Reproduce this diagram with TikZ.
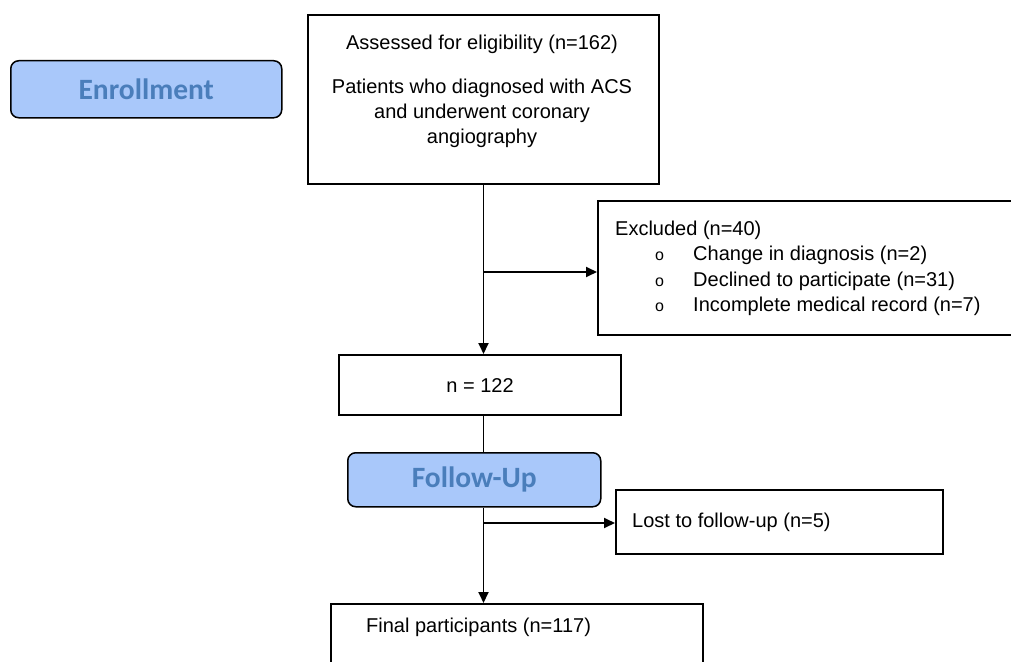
\documentclass[tikz,border=0pt]{standalone}
\usepackage{fontspec}
\setmainfont{Liberation Sans}
\newfontfamily\phasefont{Carlito}
\usetikzlibrary{arrows.meta}
\definecolor{phasefill}{HTML}{A9C8FA}
\definecolor{phasetext}{HTML}{4A7EBB}
\begin{document}
\begin{tikzpicture}[x=1pt,y=-1pt,
  box/.style={draw, line width=1.7pt, fill=white, inner sep=0pt, anchor=north west},
  phase/.style={draw, line width=1.5pt, fill=phasefill, rounded corners=8pt, inner sep=0pt,
    anchor=north west, font=\phasefont\bfseries\fontsize{29.5}{31}\selectfont, text=phasetext},
  txt/.style={font=\fontsize{20}{25}\selectfont, inner sep=0pt},
  conn/.style={line width=1.8pt},
  arr/.style={conn, -{Triangle[length=11pt,width=10pt]}}]
\clip (0,0) rectangle (1011,661);
% boxes
\node[phase, minimum width=271pt, minimum height=57pt] (enroll) at (10,60) {Enrollment};
\node[box, minimum width=351pt, minimum height=169pt] (assess) at (307,14) {};
\node[box, minimum width=450pt, minimum height=134pt] (excl) at (597,200) {};
\node[box, minimum width=282pt, minimum height=60pt] (n122) at (338,354) {};
\node[phase, minimum width=253pt, minimum height=54pt] (follow) at (347,452) {Follow-Up};
\node[box, minimum width=327pt, minimum height=64pt] (lost) at (615,489) {};
\node[box, minimum width=372pt, minimum height=90pt] (final) at (330,603) {};
% texts
\node[txt, anchor=base] (t1) at (482,49) {Assessed for eligibility (n=162)};
\node[txt, anchor=north, align=center] (t2) at (482,78.5) {Patients who diagnosed with ACS\\and underwent coronary\\angiography};
\node[txt, anchor=north west, align=left, font=\fontsize{20}{25.5}\selectfont] (t3) at (615,220.5) {%
Excluded (n=40)\\
\hspace*{40pt}\makebox[38pt][l]{\fontsize{16}{16}\selectfont o}Change in diagnosis (n=2)\\
\hspace*{40pt}\makebox[38pt][l]{\fontsize{16}{16}\selectfont o}Declined to participate (n=31)\\
\hspace*{40pt}\makebox[38pt][l]{\fontsize{16}{16}\selectfont o}Incomplete medical record (n=7)};
\node[txt, anchor=base] (t4) at (480,392) {n = 122};
\node[txt, anchor=base west] (t5) at (632,527) {Lost to follow-up (n=5)};
\node[txt, anchor=base west] (t6) at (366,632) {Final participants (n=117)};
% connectors
\coordinate (stem) at (483.5,0);
\coordinate (b1) at (483.5,272);
\coordinate (b2) at (483.5,523);
\draw[arr] (assess.south -| stem) -- (n122.north -| stem);
\draw[arr] (b1) -- (b1 -| excl.west);
\draw[conn] (n122.south -| stem) -- (follow.north -| stem);
\draw[arr] (follow.south -| stem) -- (final.north -| stem);
\draw[arr] (b2) -- (b2 -| lost.west);
\end{tikzpicture}
\end{document}
